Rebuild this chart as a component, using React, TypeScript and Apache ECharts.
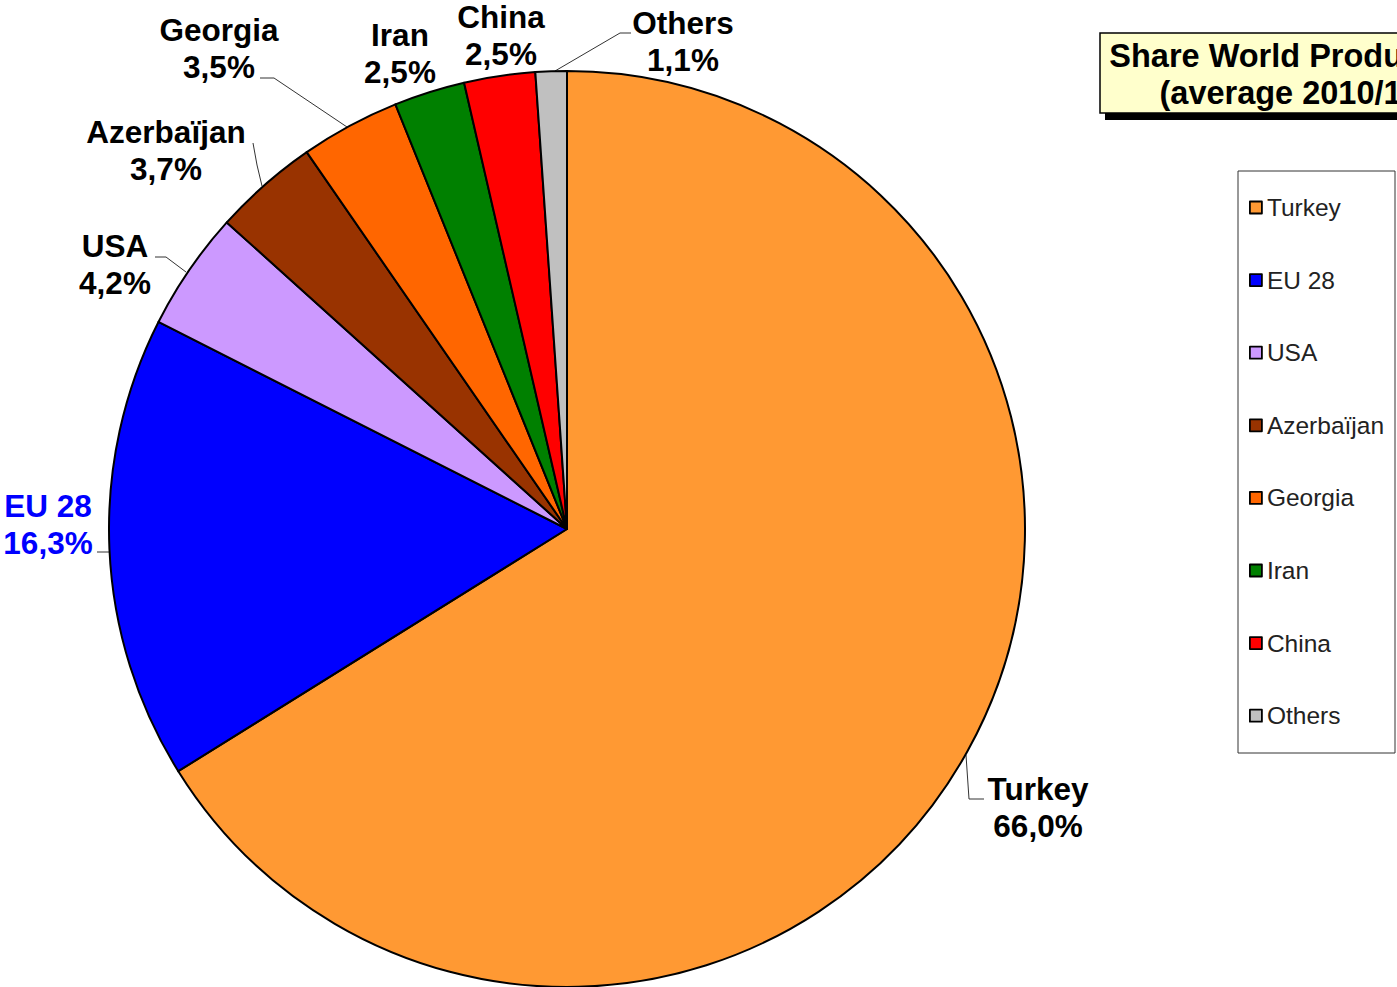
import React, { useEffect, useRef } from "react";
import * as echarts from "echarts";

const categories = ["Turkey", "EU 28", "USA", "Azerbaïjan", "Georgia", "Iran", "China", "Others"];
const shares = [66.0, 16.3, 4.2, 3.7, 3.5, 2.5, 2.5, 1.1];
const colors = ["#FF9933", "#0000FF", "#CC99FF", "#993300", "#FF6600", "#008000", "#FF0000", "#C0C0C0"];
const titleLines = ["Share World Production", "(average 2010/14)"];

// label placement (centre of each two-line label) and leader lines
const labelPos: [number, number][] = [
  [1038, 807],
  [48, 524],
  [115, 264],
  [166, 150],
  [219, 48],
  [400, 53],
  [501, 35],
  [683, 41],
];
const leaderLines: ([number, number][] | null)[] = [
  [[966, 755], [969, 799], [984, 799]],
  [[109, 552], [103, 552], [97, 552]],
  [[186, 272], [166, 257], [155, 257]],
  [[262, 186], [257, 165], [253, 143]],
  [[347, 127], [274, 78], [260, 78]],
  null,
  null,
  [[555, 71], [620, 33], [631, 33]],
];

const fmt = (v: number) => v.toFixed(1).replace(".", ",") + "%";

export default function App() {
  const ref = useRef<HTMLDivElement>(null);
  useEffect(() => {
    document.body.style.margin = "0";
    const chart = echarts.init(ref.current!, null, { renderer: "svg" });
    const font = "'Liberation Sans', Arial, sans-serif";
    chart.setOption({
      animation: false,
      backgroundColor: "#fff",
      legend: {
        orient: "vertical",
        left: 1249,
        top: 195,
        padding: 0,
        icon: "rect",
        itemWidth: 12,
        itemHeight: 12,
        itemGap: 47.6,
        itemStyle: { borderColor: "#000", borderWidth: 1.8 },
        textStyle: { fontFamily: font, fontSize: 24.5, color: "#222", lineHeight: 24, padding: [0, 0, 0, 0] },
        data: categories,
      },
      graphic: [
        { type: "rect", shape: { x: 1238, y: 171, width: 157, height: 582 }, style: { fill: "none", stroke: "#333", lineWidth: 1 } },
        { type: "rect", shape: { x: 1105, y: 39, width: 420, height: 81 }, style: { fill: "#000" } },
        { type: "rect", shape: { x: 1100, y: 33, width: 420, height: 80 }, style: { fill: "#FFFFCC", stroke: "#000", lineWidth: 1.5 } },
        {
          type: "text",
          x: 1295,
          y: 74,
          style: {
            text: titleLines.join("\n"),
            font: `bold 32.5px ${font}`,
            lineHeight: 37,
            fill: "#000",
            align: "center",
            verticalAlign: "middle",
          },
        },
      ],
      series: [
        {
          type: "pie",
          center: [567, 529],
          radius: 458,
          startAngle: 90,
          clockwise: true,
          avoidLabelOverlap: false,
          itemStyle: { borderColor: "#000", borderWidth: 2 },
          label: {
            show: true,
            position: "outside",
            fontFamily: font,
            fontWeight: "bold",
            fontSize: 31.5,
            lineHeight: 37,
            color: "#000",
            formatter: (p: any) => `${p.name}\n${fmt(p.value)}`,
          },
          labelLine: { show: true, lineStyle: { color: "#333", width: 1 } },
          labelLayout: (p: any) => {
            const i = p.dataIndex;
            const out: any = { x: labelPos[i][0], y: labelPos[i][1], align: "center", verticalAlign: "middle" };
            if (leaderLines[i]) out.labelLinePoints = leaderLines[i];
            return out;
          },
          data: categories.map((name, i) => ({
            name,
            value: shares[i],
            itemStyle: { color: colors[i] },
            label: i === 1 ? { color: "#0000FF" } : undefined,
            labelLine: leaderLines[i] ? undefined : { show: false },
          })),
        },
      ],
    });
    return () => chart.dispose();
  }, []);
  return <div ref={ref} style={{ width: 1397, height: 987 }} />;
}
